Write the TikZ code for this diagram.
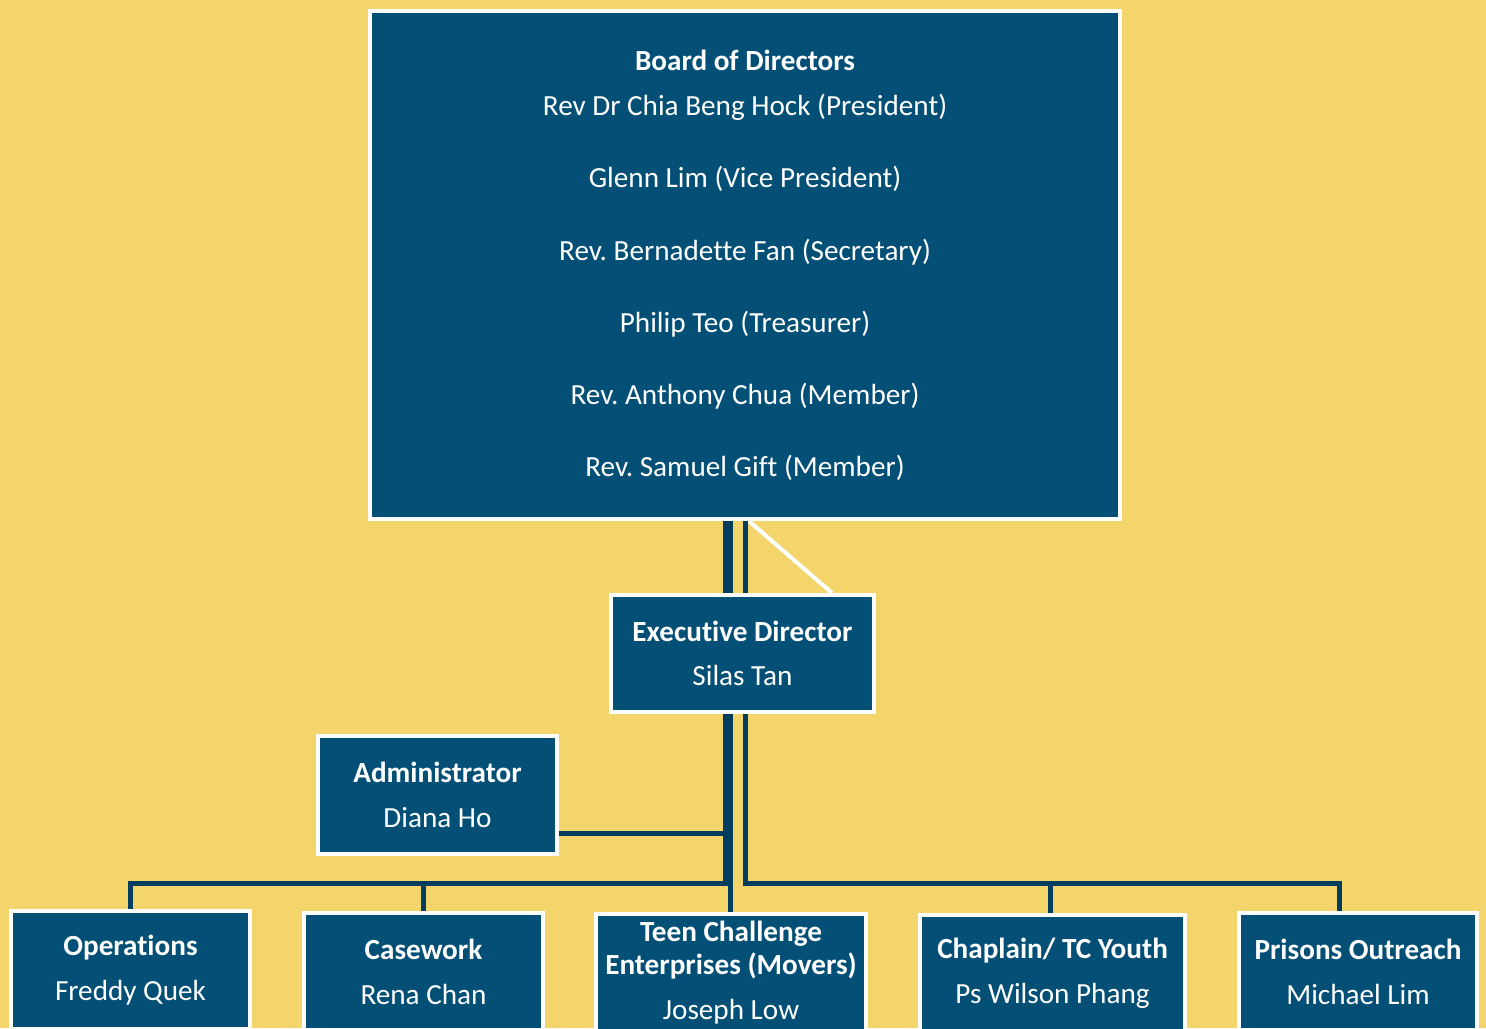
\documentclass[tikz,border=0pt]{standalone}
\usepackage{fontspec}
\setmainfont{Carlito}[Ligatures=NoCommon]
\usetikzlibrary{backgrounds}
\frenchspacing

\definecolor{sand}{HTML}{F3D56B}
\definecolor{boxblue}{HTML}{034F75}
\definecolor{linkblue}{HTML}{033D5D}

\begin{document}
\begin{tikzpicture}
  [x=0.01cm, y=-0.01cm,
   box/.style={draw=white, line width=0.04cm, fill=boxblue, text=white,
     align=center, inner sep=0pt, font=\fontsize{8.3}{9.3}\selectfont},
   link/.style={draw=linkblue, line width=0.05cm},
   slant/.style={draw=white, line width=0.04cm}]
  \useasboundingbox (0,0) rectangle (1486,1028);

  \node[box, minimum width=7.5cm, minimum height=5.08cm] (board) at (745,265)
    {\textbf{Board of Directors}\\[3.7pt]
     Rev Dr Chia Beng Hock (President)\\[11.2pt]
     Glenn Lim (Vice President)\\[11.2pt]
     Rev. Bernadette Fan (Secretary)\\[11.2pt]
     Philip Teo (Treasurer)\\[11.2pt]
     Rev. Anthony Chua (Member)\\[11.2pt]
     Rev. Samuel Gift (Member)};
  \node[box, minimum width=2.63cm, minimum height=1.17cm] (exec) at (742.5,653.5)
    {\textbf{Executive Director}\\[3.3pt] Silas Tan};
  \node[box, minimum width=2.39cm, minimum height=1.18cm] (admin) at (437.5,795)
    {\textbf{Administrator}\\[3.3pt] Diana Ho};
  \node[box, minimum width=2.39cm, minimum height=1.17cm] (ops) at (130.5,970)
    {\textbf{Operations}\\[3.5pt] Freddy Quek};
  \node[box, minimum width=2.39cm, minimum height=1.17cm] (case) at (423.5,971.5)
    {\textbf{Casework}\\[3.5pt] Rena Chan};
  \node[box, minimum width=2.7cm, minimum height=1.17cm] (tce) at (731,972.5)
    {\textbf{Teen Challenge}\\ \textbf{Enterprises (Movers)}\\[3.5pt] Joseph Low};
  \node[box, minimum width=2.65cm, minimum height=1.17cm] (chap) at (1052.5,973.5)
    {\textbf{Chaplain/ TC Youth}\\[3.5pt] Ps Wilson Phang};
  \node[box, minimum width=2.38cm, minimum height=1.17cm] (prison) at (1358,971.5)
    {\textbf{Prisons Outreach}\\[3.5pt] Michael Lim};

  \coordinate (ja) at (725.5,833);
  \coordinate (jl) at (725.5,883);
  \coordinate (jt) at (730.5,883);
  \coordinate (jr) at (745,883);
  \coordinate (jc) at (1050,883);
  \coordinate (jp) at (1339,883);

  \begin{scope}[on background layer]
    \fill[sand] (0,0) rectangle (1486,1028);
    \foreach \j in {ja,jt,jr}
      \draw[link] (board.south -| \j) -- (exec.north -| \j);
    \draw[slant] ([xshift=0.04cm]board.south) -- ([xshift=0.895cm]exec.north);
    \draw[link] (exec.south -| ja) -- (ja) -- (admin.east |- ja);
    \draw[link] (exec.south -| jl) -- (jl) -| (ops.north);
    \draw[link] (case.north |- jl) -- (case.north);
    \draw[link] (exec.south -| jt) -- (tce.north -| jt);
    \draw[link] (exec.south -| jr) -- (jr) -- (jp) -- (prison.north -| jp);
    \draw[link] (jc) -- (chap.north -| jc);
  \end{scope}
\end{tikzpicture}
\end{document}
